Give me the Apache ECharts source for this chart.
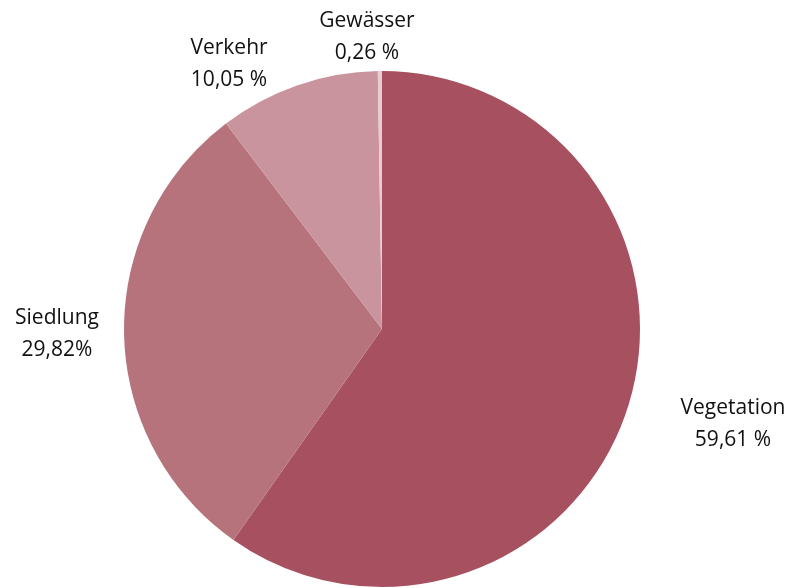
<!DOCTYPE html>
<html>
<head>
<meta charset="utf-8">
<script src="https://cdn.jsdelivr.net/npm/echarts@6/dist/echarts.min.js"></script>
<style>
  html, body { margin: 0; padding: 0; background: #fff; }
  #chart { width: 796px; height: 588px; }
</style>
</head>
<body>
<div id="chart"></div>
<script>
// Flächennutzung (Anteile in %)
const categories = ['Vegetation', 'Siedlung', 'Verkehr', 'Gewässer']
const values = [59.61, 29.82, 10.05, 0.26]
const valueLabels = ['59,61 %', '29,82%', '10,05 %', '0,26 %']
const colors = ['#a65060', '#b7737c', '#ca949f', '#e8ccd2']

// Lage der Beschriftungen (Mittelpunkt der zweizeiligen Texte)
const labelPos = {
  Vegetation: [733, 424],
  Siedlung: [57, 334],
  Verkehr: [229, 64],
  'Gewässer': [367, 37]
}

const chart = echarts.init(document.getElementById('chart'))

const option = {
  animation: false,
  series: [
    {
      type: 'pie',
      center: [382, 329],
      radius: [0, 258],
      startAngle: 90,
      clockwise: true,
      data: categories.map((name, i) => ({
        name: name,
        value: values[i],
        itemStyle: { color: colors[i] }
      })),
      label: {
        show: true,
        fontFamily: 'Open Sans',
        fontSize: 21,
        lineHeight: 32,
        color: '#111',
        align: 'center',
        overflow: 'none',
        formatter: (p) => p.name + '\n' + valueLabels[p.dataIndex]
      },
      labelLine: { show: false },
      labelLayout: (params) => {
        const pos = labelPos[categories[params.dataIndex]]
        return {
          x: pos[0],
          y: pos[1],
          align: 'center',
          verticalAlign: 'middle'
        }
      },
      silent: true
    }
  ]
}

chart.setOption(option)
</script>
</body>
</html>
